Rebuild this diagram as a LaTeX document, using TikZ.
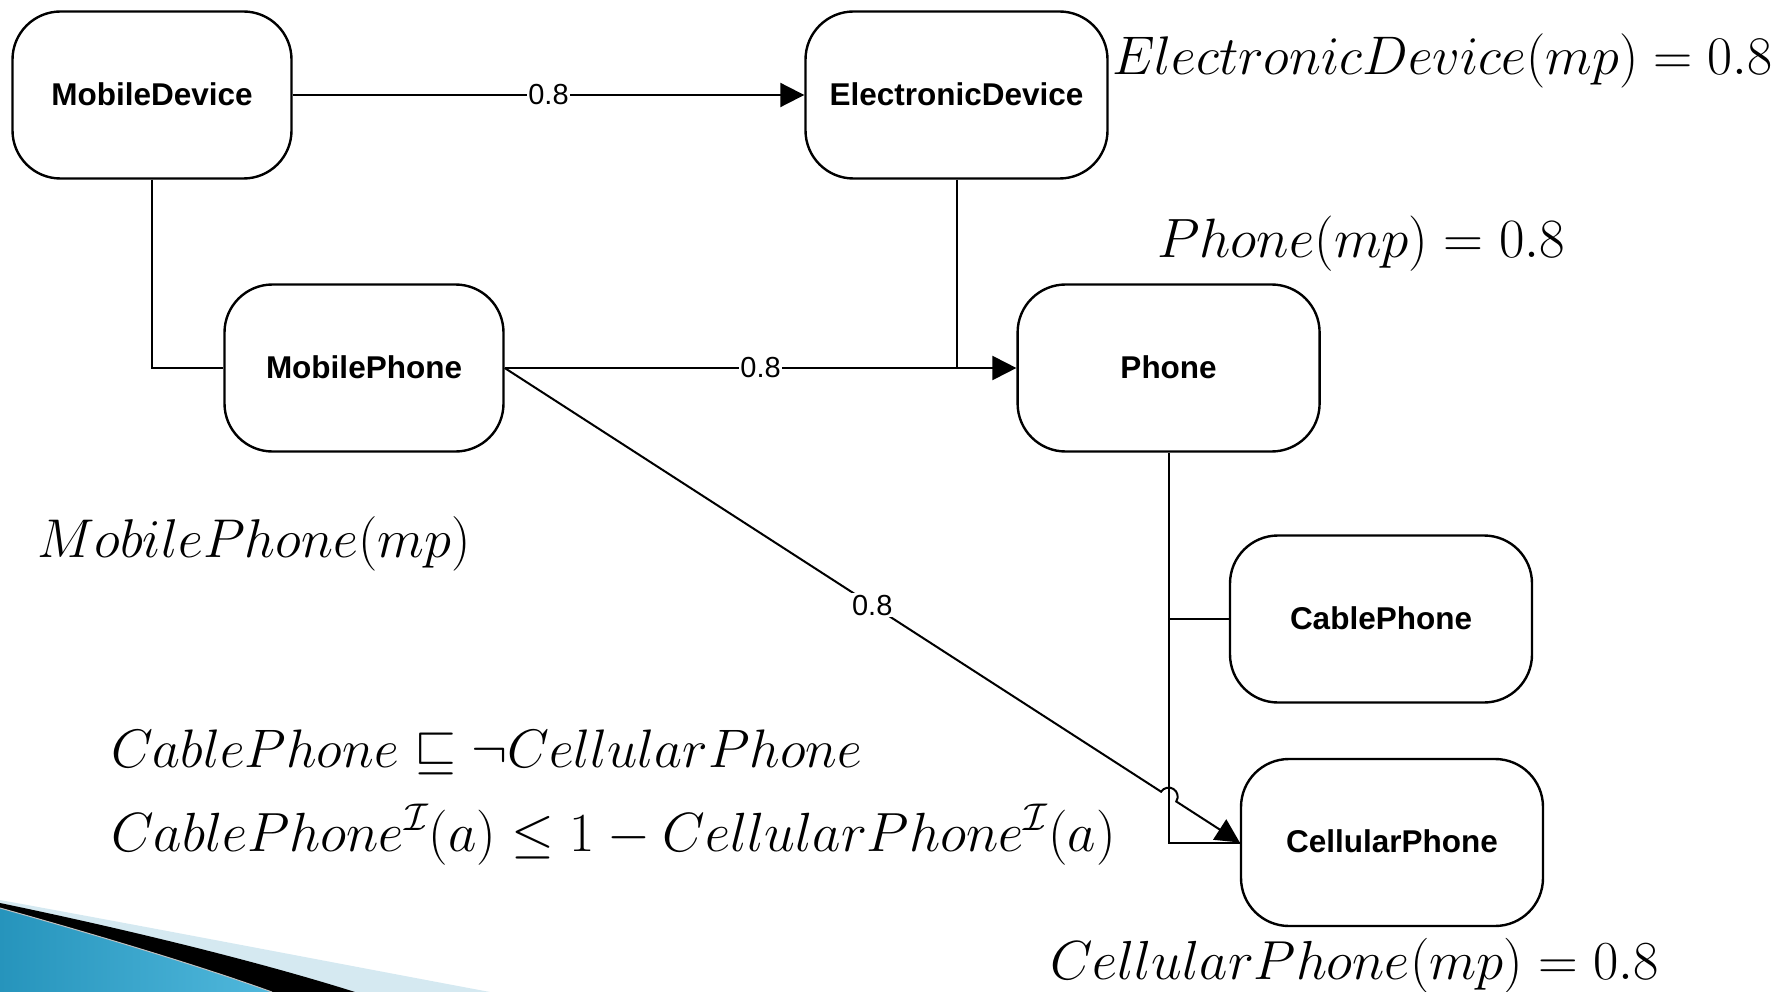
\RequirePackage{fix-cm}
\documentclass[tikz,border=0pt]{standalone}
\usepackage{fontspec}
\newfontfamily\arialfont{Liberation Sans}
\usepackage{graphicx}
\usetikzlibrary{arrows.meta,calc}
\definecolor{decolight}{RGB}{213,233,241}
\definecolor{decoblueA}{RGB}{38,148,188}
\definecolor{decoblueB}{RGB}{80,184,220}
\begin{document}
\begin{tikzpicture}[x=1pt,y=-1pt,
  concept/.style={draw, line width=2.4pt, rounded corners=48pt, minimum height=167pt,
    inner sep=0pt, font=\arialfont\bfseries\fontsize{31.5}{36}\selectfont},
  narrowbox/.style={concept, minimum width=279pt},
  widebox/.style={concept, minimum width=302pt},
  link/.style={line width=2pt},
  arrowlink/.style={link, -{Triangle[length=24pt,width=24pt]}},
  weight/.style={fill=white, inner sep=1.5pt, font=\arialfont\fontsize{29}{34}\selectfont},
  formula/.style={anchor=base west, inner sep=0pt, font=\fontsize{#1}{60}\selectfont},
  formula/.default=54.6,
]
\useasboundingbox (0,0) rectangle (1779,992);

% decoration
\fill[decolight] (0,900) .. controls (170,931) and (330,962) .. (490,992) -- (0,992) -- cycle;
\fill[black] (0,903) .. controls (130,930) and (260,962) .. (355,992) -- (0,992) -- cycle;
\shade[left color=decoblueA, right color=decoblueB] (0,908) .. controls (100,936) and (200,966) .. (272,992) -- (0,992) -- cycle;
\draw[gray!50, line width=1pt] (0,908) .. controls (100,936) and (200,966) .. (272,992);

% concepts
\node[narrowbox] (md) at (152,95) {\raisebox{2pt}{MobileDevice}};
\node[widebox] (ed) at (956.5,95) {\raisebox{2pt}{ElectronicDevice}};
\node[narrowbox] (mp) at (364,368) {\raisebox{2pt}{MobilePhone}};
\node[widebox] (ph) at (1168.6,368) {\raisebox{2pt}{Phone}};
\node[widebox] (cable) at (1381,619) {\raisebox{2pt}{CablePhone}};
\node[widebox] (cell) at (1392,842.5) {\raisebox{2pt}{CellularPhone}};

% connectors
\draw[arrowlink] (md.east) -- node[weight]{0.8} (ed.west);
\draw[link] (md.south) |- (mp.west);
\draw[link] (ed.south) -- (ed.south |- ph.west);
\draw[arrowlink] (mp.east) -- node[weight]{0.8} (ph.west);
\coordinate (treeend) at (ph.south |- cell.west);
\draw[link] (ph.south) -- (treeend) -- (cell.west);
\draw[link] (ph.south |- cable.west) -- (cable.west);
\coordinate (cross) at (intersection of mp.east--cell.west and ph.south--treeend);
\draw[arrowlink] let \p1=($(cell.west)-(mp.east)$), \n1={atan2(\y1,\x1)} in
  (mp.east) -- ($(cross)!9pt!(mp.east)$) arc[start angle=\n1+180, end angle=\n1, radius=9pt] -- (cell.west);
\path (mp.east) -- node[weight]{0.8} (cell.west);

% formulas
\node[formula=54.4] (edfact) at (1112,75) {$ElectronicDevice(mp)=0.8$};
\node[formula=55.4] (phfact) at (1157,258) {$Phone(mp)=0.8$};
\node[formula=54.6] (mpfact) at (37,557) {$MobilePhone(mp)$};
\node[formula=54.2] (axiom) at (111,767) {$CablePhone\sqsubseteq\neg CellularPhone$};
\node[formula=55.2] (semantics) at (111,851) {$CablePhone^{\mathcal{I}}(a)\leq 1-CellularPhone^{\mathcal{I}}(a)$};
\node[formula=55] (cellfact) at (1050,979) {$CellularPhone(mp)=0.8$};
\end{tikzpicture}
\end{document}
